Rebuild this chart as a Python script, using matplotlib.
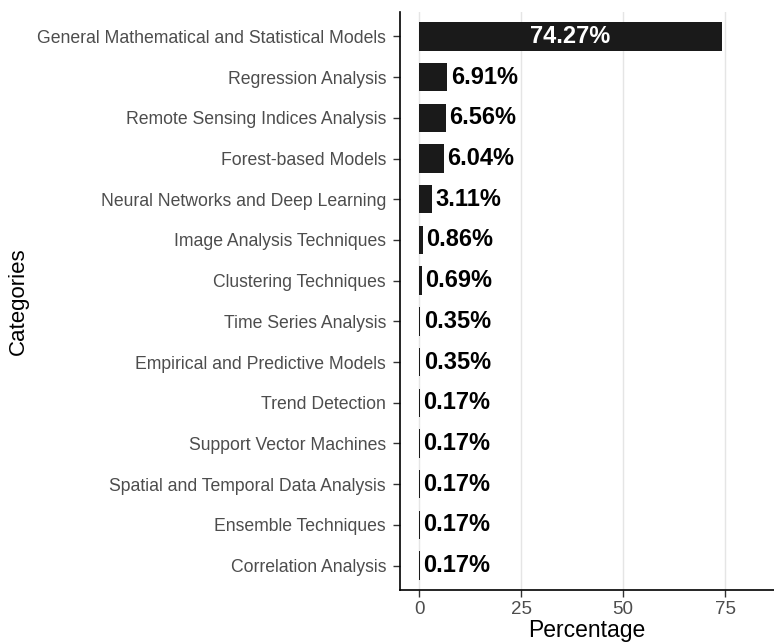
import numpy as np
import matplotlib
matplotlib.use('Agg')
import matplotlib.pyplot as plt

categories = ['General Mathematical and Statistical Models', 'Regression Analysis',
              'Remote Sensing Indices Analysis', 'Forest-based Models',
              'Neural Networks and Deep Learning', 'Image Analysis Techniques',
              'Clustering Techniques', 'Time Series Analysis',
              'Empirical and Predictive Models', 'Trend Detection',
              'Support Vector Machines', 'Spatial and Temporal Data Analysis',
              'Ensemble Techniques', 'Correlation Analysis']
percentages = [74.27, 6.91, 6.56, 6.04, 3.11, 0.86, 0.69, 0.35, 0.35, 0.17, 0.17, 0.17, 0.17, 0.17]
xticks = [0, 25, 50, 75]

plt.rcParams['font.family'] = ['Liberation Sans', 'DejaVu Sans']

fig = plt.figure(figsize=(7.74, 6.42), dpi=100)
ax = fig.add_axes([400 / 774, 1 - 590 / 642, 1 - 400 / 774, (590 - 12) / 642])

n = len(categories)
y = np.arange(n)[::-1]
ax.barh(y, percentages, height=0.7, color='#1a1a1a', zorder=3)

for yi, v in zip(y, percentages):
    lab = f'{v:.2f}%'
    if v > 50:
        ax.text(v / 2, yi, lab, color='white', fontsize=17, fontweight='bold',
                ha='center', va='center', zorder=4)
    else:
        ax.annotate(lab, (v, yi), xytext=(2.5, 0), textcoords='offset points',
                    color='black', fontsize=17, fontweight='bold',
                    ha='left', va='center', zorder=4)

ax.set_yticks(y)
ax.set_yticklabels(categories, fontsize=12.7, color='#4d4d4d')
ax.set_xticks(xticks)
ax.set_xticklabels([str(t) for t in xticks], fontsize=13.5, color='#4d4d4d')
ax.set_xlim(-4.66, 87.0)
ax.set_ylim(-0.6, n - 1 + 0.6)

ax.grid(axis='x', color='#e5e5e5', linewidth=1, zorder=0)
ax.tick_params(axis='y', length=5, width=1, color='#333333', pad=5)
ax.tick_params(axis='x', length=5, width=1, color='#333333', pad=3)
for s in ['top', 'right']:
    ax.spines[s].set_visible(False)
for s in ['left', 'bottom']:
    ax.spines[s].set_linewidth(1.2)
    ax.spines[s].set_color('black')

ax.set_xlabel('Percentage', fontsize=16.5, labelpad=1)
ax.set_ylabel('Categories', fontsize=16, labelpad=6)

fig.savefig('out.png', dpi=100)
